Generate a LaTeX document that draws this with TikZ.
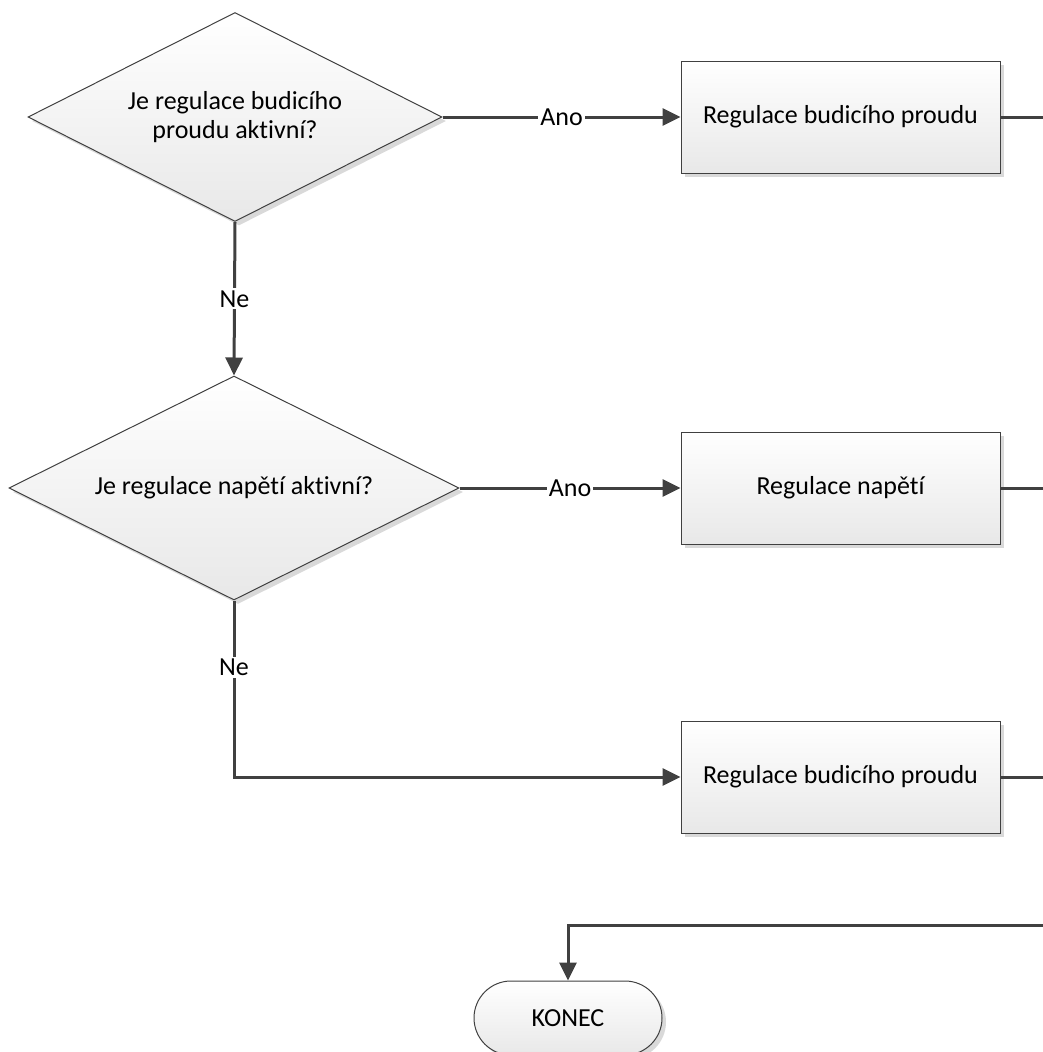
\documentclass[tikz,border=0pt]{standalone}
\usepackage{fontspec}
\setmainfont{Carlito}[Ligatures={NoCommon,NoContextual}, RawFeature={-liga;-clig;-dlig}]
\usetikzlibrary{shapes.geometric,shadows,arrows.meta,positioning}
\definecolor{flowline}{HTML}{404040}
\definecolor{flowshade}{HTML}{D9D9D9}

\begin{document}
\begin{tikzpicture}[
        x=1pt, y=-1pt,
        every node/.style={font=\fontsize{26}{29}\selectfont, text=black},
        shapebase/.style={draw=flowline, line width=1pt, top color=white, bottom color=black!9,
            drop shadow={shadow xshift=4pt, shadow yshift=-4pt, fill=flowshade, opacity=1}},
        decision/.style={shapebase, diamond, aspect=2, inner sep=0pt, align=center},
        process/.style={shapebase, rectangle, minimum width=319pt, minimum height=112pt},
        terminal/.style={shapebase, rectangle, rounded corners=37pt, minimum width=188pt, minimum height=74pt},
        flow/.style={draw=flowline, line width=3pt, -{Triangle[length=18pt,width=17pt]}},
        plain/.style={draw=flowline, line width=3pt},
        lbl/.style={fill=white, inner sep=2pt},
    ]
    \useasboundingbox (0,0) rectangle (1043,1052);

    \node[decision, minimum width=414pt, minimum height=209pt] (askfield) at (235,117) {Je regulace budicího\\proudu aktivní?};
    \node[process] (fieldreg) at (840.5,117) {Regulace budicího proudu};
    \node[decision, minimum width=450pt, minimum height=224pt] (askvolt) at (234,488) {Je regulace napětí aktivní?};
    \node[process] (voltreg) at (840.5,488) {Regulace napětí};
    \node[process] (fieldreg2) at (840.5,777) {Regulace budicího proudu};
    \node[terminal] (konec) at (568,1018) {KONEC};

    \coordinate (exit1) at (1050,117);
    \coordinate (exit2) at (1050,488);
    \coordinate (exit3) at (1050,777);
    \coordinate (join) at (1050,925);

    \draw[flow] (askfield.east) -- node[lbl]{Ano} (fieldreg.west);
    \draw[flow] (askfield.south) -- node[lbl]{Ne} (askvolt.north);
    \draw[flow] (askvolt.east) -- node[lbl]{Ano} (voltreg.west);
    \draw[flow] (askvolt.south) |- node[lbl, pos=0.19]{Ne} (fieldreg2.west);
    \draw[plain] (fieldreg.east) -- (exit1);
    \draw[plain] (voltreg.east) -- (exit2);
    \draw[plain] (fieldreg2.east) -- (exit3);
    \draw[flow] (join) -| (konec.north);
\end{tikzpicture}
\end{document}
